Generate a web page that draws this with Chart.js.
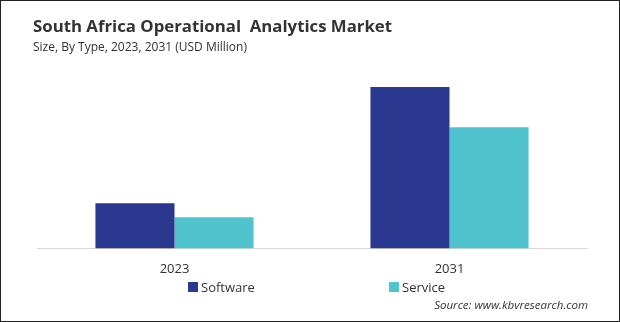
<!DOCTYPE html>
<html>
<head>
<meta charset="utf-8">
<script src="https://cdn.jsdelivr.net/npm/chart.js@4.4.1/dist/chart.umd.min.js"></script>
<style>
  html, body { margin: 0; padding: 0; background: #fff; }
  #frame {
    position: relative;
    width: 620px;
    height: 322px;
    box-sizing: border-box;
    border: 1px solid #222;
    overflow: hidden;
    font-family: "Open Sans", sans-serif;
  }
  #chart { position: absolute; left: -1px; top: -1px; }
  .title { position: absolute; left: 32px; top: 13px; font-size: 16.8px; font-weight: 700; color: #333; white-space: nowrap; }
  .subtitle { position: absolute; left: 32px; top: 37px; font-size: 12px; color: #333; white-space: nowrap; }
  .source { position: absolute; right: 31px; top: 296px; font-size: 11.5px; font-style: italic; color: #333; white-space: nowrap; }
  #legend { position: absolute; left: 0; top: 277px; width: 620px; }
  .item { position: absolute; display: flex; align-items: center; font-size: 13px; color: #333; white-space: nowrap; }
  .swatch { width: 10px; height: 10px; margin-right: 3px; }
</style>
</head>
<body>
<div id="frame">
  <canvas id="chart" width="620" height="322"></canvas>
  <div class="title">South Africa Operational&nbsp; Analytics Market</div>
  <div class="subtitle">Size, By Type, 2023, 2031 (USD Million)</div>
  <div id="legend"></div>
  <div class="source">Source: www.kbvresearch.com</div>
</div>
<script>
const NAVY = '#2B388F';
const CYAN = '#4FC4CF';

const years = ['2023', '2031'];
const seriesNames = ['Software', 'Service'];
const software = [22.5, 80.5];
const service = [15.5, 60.5];
const legendLeft = [187, 388];

const chart = new Chart(document.getElementById('chart'), {
    type: 'bar',
    data: {
        labels: years,
        datasets: [
            { label: seriesNames[0], data: software, backgroundColor: NAVY },
            { label: seriesNames[1], data: service, backgroundColor: CYAN },
        ],
    },
    options: {
        responsive: false,
        animation: false,
        datasets: { bar: { categoryPercentage: 0.575, barPercentage: 1 } },
        layout: { padding: { left: 37, right: 33, top: 67, bottom: 40 } },
        plugins: { legend: { display: false }, tooltip: { enabled: false } },
        scales: {
            x: {
                grid: { display: false },
                border: { display: true, color: '#D9D9D9', width: 1 },
                ticks: { padding: 5, color: '#333', font: { family: 'Open Sans', size: 13 } },
            },
            y: { display: false, min: 0, max: 90.5 },
        },
    },
});

// legend built from the datasets
const legend = document.getElementById('legend');
chart.data.datasets.forEach((ds, i) => {
    const item = document.createElement('div');
    item.className = 'item';
    item.style.left = legendLeft[i] + 'px';
    item.innerHTML = `<span class="swatch" style="background:${ds.backgroundColor}"></span>${ds.label}`;
    legend.appendChild(item);
});
</script>
</body>
</html>
